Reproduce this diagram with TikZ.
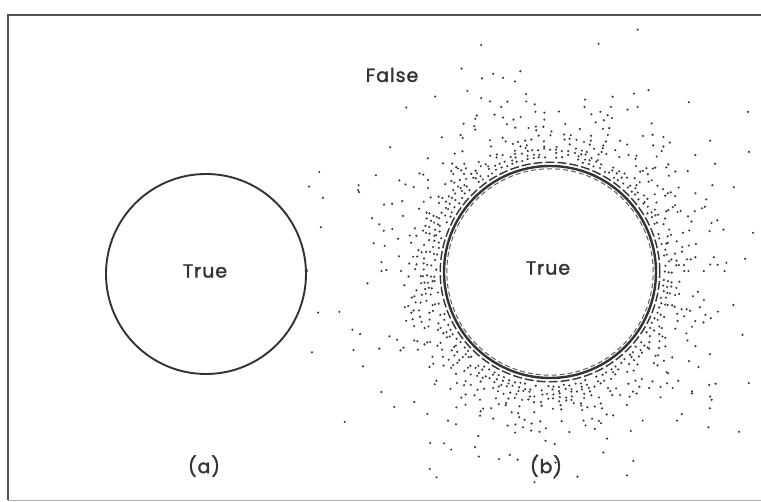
\documentclass[tikz,border=0pt]{standalone}
\usepackage{fontspec}
\newfontfamily\plotfont[LetterSpace=5,FakeBold=1.6]{Poppins}
\definecolor{ink}{HTML}{333333}
\definecolor{dotc}{HTML}{3A3A3A}
\begin{document}
\begin{tikzpicture}[x=1pt,y=1pt,
  lbl/.style={font=\plotfont\fontsize{19}{22}\selectfont, text=ink, inner sep=0pt},
  setc/.style={circle, draw=ink, line width=1.9pt, inner sep=0pt},
  frameline/.style={draw=ink!85, line width=2.4pt},
  dotmark/.style={fill=dotc}]
\useasboundingbox (0,0) rectangle (761,502);
\fill[white] (0,0) rectangle (761,502);
% frame
\coordinate (f1) at (761,487);
\coordinate (f2) at (8,487);
\coordinate (f3) at (8,1.5);
\coordinate (f4) at (761,1.5);
\draw[frameline] (f1) -- (f2) -- (f3);
\draw[draw=ink!40, line width=1pt] (f3) -- (f4);
% left set
\node[setc, minimum size=200pt] (ca) at (206,228) {};
\node[lbl] (ta) at (205,231) {True};
\node[lbl] (la) at (204,36) {(a)};
% right set
\coordinate (cb) at (550,230);
\pgfmathsetseed{11}
\foreach \a in {0,2.8,...,357.5}{
  \foreach \k in {1,...,40}{
    \pgfmathsetmacro{\p}{0.97*exp(-\k/7)}
    \pgfmathsetmacro{\u}{rnd}
    \ifdim \u pt < \p pt
      \pgfmathsetmacro{\rr}{111+3.8*\k+rand*1.2}
      \pgfmathsetmacro{\aa}{\a+rand*0.5}
      \fill[dotmark] (cb) ++(\aa:\rr) circle (1.2);
    \fi
  }
}
\foreach \i in {1,...,40}{
  \pgfmathsetmacro{\aa}{rnd*360}
  \pgfmathsetmacro{\rr}{165+rnd*95}
  \pgfmathsetmacro{\xx}{550+\rr*cos(\aa)}
  \pgfmathsetmacro{\yy}{230+\rr*sin(\aa)}
  \pgfmathparse{(\xx>20)&&(\xx<755)&&(\yy>6)&&(\yy<480)&&((abs(\xx-392)>45)||(abs(\yy-427)>20))?1:0}
  \ifnum\pgfmathresult=1
    \fill[dotmark] (\xx,\yy) circle (1.2);
  \fi
}
\node[setc, minimum size=212pt, line width=2.4pt] (cbc) at (cb) {};
\draw[ink, line width=1.4pt, dash pattern=on 9pt off 3pt] (cb) circle (109.8);
\draw[ink!80, line width=1pt, dash pattern=on 5pt off 3pt] (cb) circle (103.2);
\node[lbl] (tb) at (548,234) {True};
\node[lbl] (lb) at (546,36) {(b)};
% outside
\node[lbl] (tf) at (392,427) {False};
\end{tikzpicture}
\end{document}
